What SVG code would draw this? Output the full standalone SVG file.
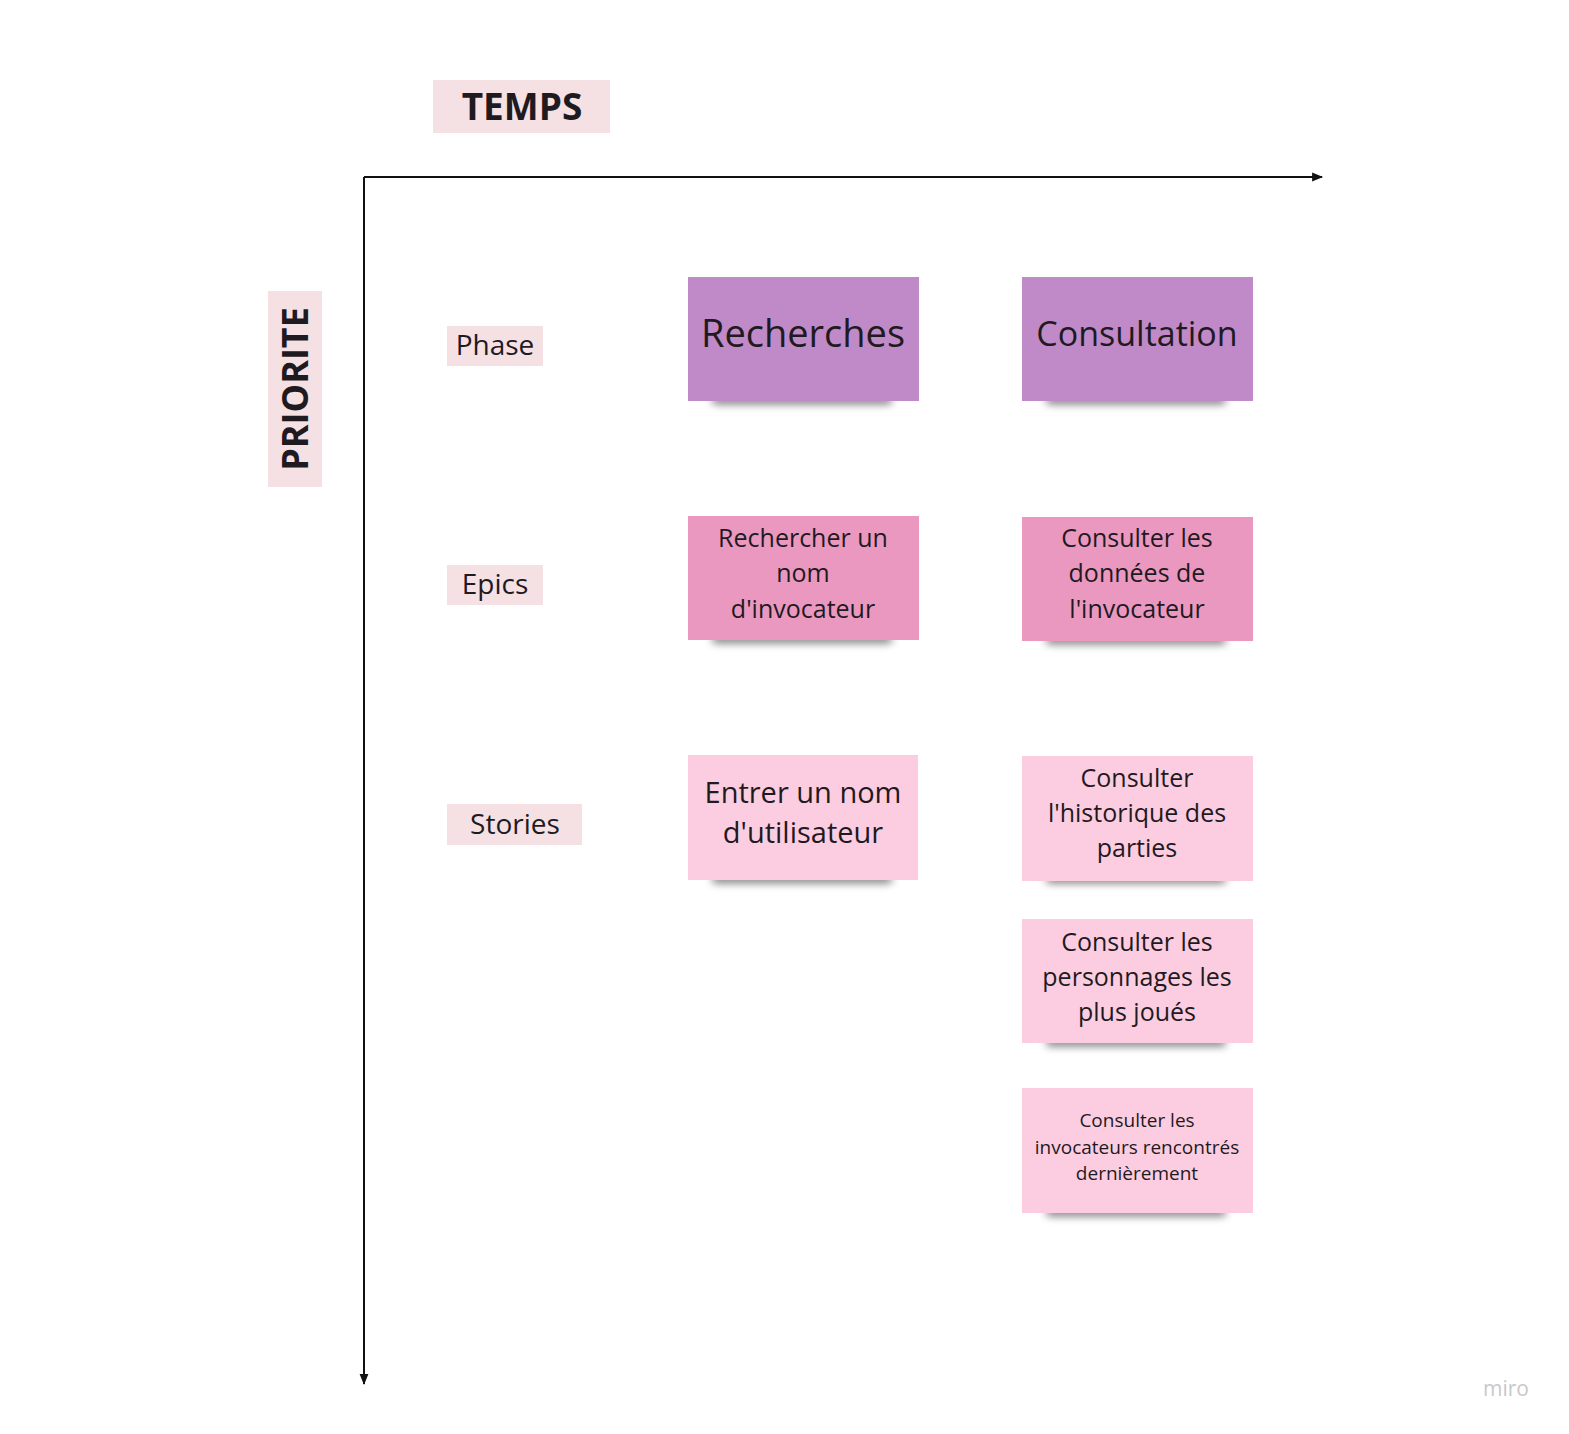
<svg xmlns="http://www.w3.org/2000/svg" width="1569" height="1434" viewBox="0 0 1569 1434">
<defs>
<style>
text{font-family:"Open Sans","Noto Sans","Liberation Sans",sans-serif;fill:#1f1a1f;text-anchor:middle}
.lab{fill:#f5e0e3}
.ph{fill:#c08ac8}
.ep{fill:#ea98c0}
.st{fill:#fccde0}
.sh{fill:#000;opacity:0.55;filter:url(#blur)}
.ax{stroke:#111;stroke-width:2;fill:none}
</style>
<filter id="blur" x="-20%" y="-200%" width="140%" height="500%"><feGaussianBlur stdDeviation="4"/></filter>
<marker id="arr2" viewBox="0 0 10 10" refX="9" refY="5" markerWidth="16" markerHeight="11" markerUnits="userSpaceOnUse" orient="auto"><path d="M0,1 L10,5 L0,9 z" fill="#111"/></marker>
</defs>
<rect width="1569" height="1434" fill="#fff"/>
<g id="connectors">
<path class="ax" d="M364,177 L1322,177" marker-end="url(#arr2)"/>
<path class="ax" d="M364,177 L364,1384" marker-end="url(#arr2)"/>
</g>
<g id="temps"><rect class="lab" x="433" y="80" width="177" height="53"/><text x="522" y="120" font-size="37" font-weight="bold">TEMPS</text></g>
<g id="priorite"><rect class="lab" x="268" y="291" width="54" height="196"/><text transform="translate(308,389) rotate(-90)" font-size="36" font-weight="bold">PRIORITE</text></g>
<g id="phase"><rect class="lab" x="447" y="326" width="96" height="40"/><text x="495" y="355" font-size="28">Phase</text></g>
<g id="epics"><rect class="lab" x="447" y="565" width="96" height="40"/><text x="495" y="594" font-size="28">Epics</text></g>
<g id="stories"><rect class="lab" x="447" y="804" width="135" height="41"/><text x="515" y="834" font-size="28">Stories</text></g>
<g id="recherches"><rect class="sh" x="712" y="396" width="180" height="8" rx="4"/><rect class="ph" x="688" y="277" width="231" height="124"/><text x="803" y="347" font-size="38">Recherches</text></g>
<g id="consultation"><rect class="sh" x="1046" y="396" width="180" height="8" rx="4"/><rect class="ph" x="1022" y="277" width="231" height="124"/><text x="1137" y="346" font-size="34">Consultation</text></g>
<g id="epic1"><rect class="sh" x="712" y="635" width="180" height="8" rx="4"/><rect class="ep" x="688" y="516" width="231" height="124"/><text font-size="25"><tspan x="803" y="547">Rechercher un</tspan><tspan x="803" y="582">nom</tspan><tspan x="803" y="618">d'invocateur</tspan></text></g>
<g id="epic2"><rect class="sh" x="1046" y="636" width="180" height="8" rx="4"/><rect class="ep" x="1022" y="517" width="231" height="124"/><text font-size="25"><tspan x="1137" y="547">Consulter les</tspan><tspan x="1137" y="582">données de</tspan><tspan x="1137" y="618">l'invocateur</tspan></text></g>
<g id="story1"><rect class="sh" x="712" y="875" width="180" height="8" rx="4"/><rect class="st" x="688" y="755" width="230" height="125"/><text font-size="29"><tspan x="803" y="803">Entrer un nom</tspan><tspan x="803" y="843">d'utilisateur</tspan></text></g>
<g id="story2"><rect class="sh" x="1046" y="875" width="180" height="8" rx="4"/><rect class="st" x="1022" y="756" width="231" height="125"/><text font-size="25"><tspan x="1137" y="787">Consulter</tspan><tspan x="1137" y="822">l'historique des</tspan><tspan x="1137" y="857">parties</tspan></text></g>
<g id="story3"><rect class="sh" x="1046" y="1038" width="180" height="8" rx="4"/><rect class="st" x="1022" y="919" width="231" height="124"/><text font-size="25"><tspan x="1137" y="951">Consulter les</tspan><tspan x="1137" y="986">personnages les</tspan><tspan x="1137" y="1021">plus joués</tspan></text></g>
<g id="story4"><rect class="sh" x="1046" y="1208" width="180" height="8" rx="4"/><rect class="st" x="1022" y="1088" width="231" height="125"/><text font-size="19"><tspan x="1137" y="1127">Consulter les</tspan><tspan x="1137" y="1154">invocateurs rencontrés</tspan><tspan x="1137" y="1180">dernièrement</tspan></text></g>
<text x="1506" y="1396" font-size="21" style="fill:#c8c8cc">miro</text>
</svg>
